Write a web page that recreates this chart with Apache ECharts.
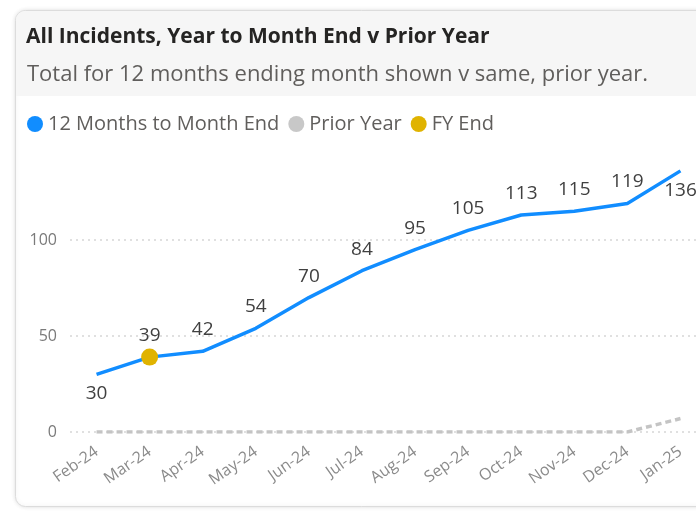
<!DOCTYPE html>
<html>
<head>
<meta charset="utf-8">
<script src="https://cdn.jsdelivr.net/npm/echarts@6/dist/echarts.min.js"></script>
<style>
  html, body { margin: 0; padding: 0; background: #ffffff; }
  #lines { width: 696px; height: 511px; }
</style>
</head>
<body>
<div id="lines"></div>
<script>
var months = ['Feb-24', 'Mar-24', 'Apr-24', 'May-24', 'Jun-24', 'Jul-24', 'Aug-24', 'Sep-24', 'Oct-24', 'Nov-24', 'Dec-24', 'Jan-25'];
var rolling12 = [30, 39, 42, 54, 70, 84, 95, 105, 113, 115, 119, 136];
var priorYear = [0, 0, 0, 0, 0, 0, 0, 0, 0, 0, 0, 7];
var fyEnd = [null, 39, null, null, null, null, null, null, null, null, null, null];
var labelsBelow = ['Feb-24', 'Jan-25'];   // value labels drawn under the point

var font = '"Open Sans", "DejaVu Sans", sans-serif';

var myChart = echarts.init(document.getElementById('lines'));

var lineData = rolling12.map(function (v, i) {
    var item = { value: v };
    if (labelsBelow.indexOf(months[i]) >= 0) {
        item.label = { position: 'bottom', distance: 10 };
    }
    return item;
});

option = {
    backgroundColor: '#ffffff',
    animation: false,
    graphic: [
        {   // card
            type: 'rect', z: -10,
            shape: { x: 15.5, y: 10.5, width: 720, height: 496, r: 10 },
            style: { fill: '#ffffff', stroke: '#dcdcdc', lineWidth: 1,
                     shadowBlur: 4, shadowColor: 'rgba(0,0,0,0.12)' }
        },
        {   // header band
            type: 'rect', z: -9,
            shape: { x: 16, y: 11, width: 720, height: 85, r: [9, 0, 0, 0] },
            style: { fill: '#f6f6f6' }
        }
    ],
    title: [
        {
            text: 'All Incidents, Year to Month End v Prior Year',
            left: 26,
            top: 27,
            padding: 0,
            textStyle: { fontFamily: font, fontSize: 21, fontWeight: 'bold', color: '#252423' }
        },
        {
            text: 'Total for 12 months ending month shown v same, prior year.',
            left: 27,
            top: 64,
            padding: 0,
            textStyle: { fontFamily: font, fontSize: 22, fontWeight: 'normal', color: '#605e5c' }
        }
    ],
    legend: {
        left: 27,
        top: 114,
        padding: 0,
        itemGap: 9,
        itemWidth: 16,
        itemHeight: 16,
        icon: 'circle',
        textStyle: { fontFamily: font, fontSize: 20, color: '#605e5c', padding: [0, 0, 0, 0] },
        data: ['12 Months to Month End', 'Prior Year', 'FY End']
    },
    color: ['#118DFF', '#C8C8C8', '#E0B300'],
    grid: { left: 70, right: -11, top: 144, bottom: 79, outerBoundsMode: 'none', containLabel: false },
    xAxis: {
        type: 'category',
        data: months,
        boundaryGap: true,
        axisLine: { show: false },
        axisTick: { show: false },
        axisLabel: {
            rotate: 35,
            margin: 18,
            fontFamily: font,
            fontSize: 16,
            color: '#8a8a8a'
        }
    },
    yAxis: {
        type: 'value',
        min: 0,
        max: 150,
        interval: 50,
        axisLine: { show: false },
        axisTick: { show: false },
        axisLabel: {
            margin: 13,
            fontFamily: font,
            fontSize: 16,
            color: '#7a7a7a',
            showMaxLabel: false
        },
        splitLine: {
            showMaxLine: false,
            lineStyle: { color: '#d6d6d6', type: [2, 4], width: 1.5 }
        }
    },
    series: [
        {
            name: '12 Months to Month End',
            type: 'line',
            z: 3,
            symbol: 'circle',
            symbolSize: 0,
            lineStyle: { width: 3.5, color: '#118DFF' },
            itemStyle: { color: '#118DFF' },
            label: {
                show: true,
                position: 'top',
                distance: 12,
                fontFamily: font,
                fontSize: 19,
                color: '#404040'
            },
            data: lineData
        },
        {
            name: 'Prior Year',
            type: 'line',
            z: 2,
            symbol: 'none',
            lineStyle: { width: 3.5, color: '#C4C4C4', type: [6, 4] },
            itemStyle: { color: '#C8C8C8' },
            data: priorYear
        },
        {
            name: 'FY End',
            type: 'line',
            z: 4,
            symbol: 'circle',
            symbolSize: 17,
            itemStyle: { color: '#E0B300' },
            lineStyle: { width: 0 },
            data: fyEnd
        }
    ]
};

myChart.setOption(option);
</script>
</body>
</html>
